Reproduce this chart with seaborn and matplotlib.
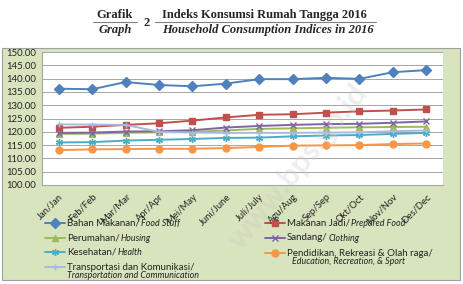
import numpy as np
import pandas as pd
import seaborn as sns
import matplotlib.pyplot as plt
from matplotlib.patches import Rectangle
from matplotlib.lines import Line2D

months = ['Jan/Jan', 'Feb/Feb', 'Mar/Mar', 'Apr/Apr', 'Mei/May', 'Juni/June',
          'Juli/July', 'Agu/Aug', 'Sep/Sep', 'Okt/Oct', 'Nov/Nov', 'Des/Dec']

food_stuff = [136.2, 136.0, 138.7, 137.6, 137.1, 138.1, 139.8, 139.8, 140.3, 139.9, 142.4, 143.2]
prepared_food = [121.5, 121.9, 122.6, 123.2, 124.2, 125.4, 126.4, 126.6, 127.2, 127.7, 128.0, 128.4]
housing = [119.2, 119.3, 119.6, 119.8, 120.0, 120.5, 121.1, 121.3, 121.5, 121.7, 121.8, 121.9]
clothing = [119.6, 119.7, 120.1, 120.2, 120.6, 121.6, 122.2, 122.6, 122.9, 123.0, 123.4, 123.9]
health = [116.0, 116.1, 116.7, 117.0, 117.3, 117.7, 117.8, 118.3, 118.6, 118.8, 119.2, 119.6]
education = [113.1, 113.4, 113.5, 113.6, 113.6, 113.9, 114.3, 114.8, 114.9, 115.0, 115.4, 115.6]
transport = [122.8, 122.7, 122.6, 120.0, 119.7, 119.6, 119.6, 119.6, 119.7, 119.8, 120.2, 120.5]

# (indonesian label, english label, values, colour, marker)
series = [
    ("Bahan Makanan/", "Food Stuff", food_stuff, '#4F81BD', 'D'),
    ("Makanan Jadi/", "Prepared Food", prepared_food, '#C0504D', 's'),
    ("Perumahan/", "Housing", housing, '#9BBB59', '^'),
    ("Sandang/", "Clothing", clothing, '#8064A2', 'x'),
    ("Kesehatan/", "Health", health, '#4BACC6', (6, 2, 0)),
    ("Pendidikan, Rekreasi & Olah raga/", "Education, Recreation, & Sport", education, '#F79646', 'o'),
    ("Transportasi dan Komunikasi/", "Transportation and Communication", transport, '#A9B9DE', '+'),
]

sns.set_style("white")
plt.rcParams['font.family'] = ['Lato', 'DejaVu Sans']

W, H = 463, 284
fig = plt.figure(figsize=(W / 100, H / 100), dpi=100)

def fx(px):
    return px / W

def fy(py):
    return 1 - py / H

# green chart box
fig.patches.append(Rectangle((fx(2), fy(280)), 458 / W, 232 / H,
                             transform=fig.transFigure, facecolor='#D7E4BD',
                             edgecolor='#A0A0A0', linewidth=0.8, zorder=-5))

ax = fig.add_axes([fx(42), fy(185), 401 / W, 133 / H])
ax.set_zorder(2)
ax.set_facecolor('white')

x = np.arange(len(months))
for name, eng, vals, color, marker in series:
    sns.lineplot(x=x, y=vals, ax=ax, color=color, marker=marker, markersize=5,
                 linewidth=1.4, markeredgecolor=color, markeredgewidth=1.0,
                 legend=False)

ax.set_xlim(-0.5, 11.5)
ax.set_ylim(100, 150)
ax.set_yticks(np.arange(100, 151, 5))
ax.set_yticklabels([f"{v:.2f}" for v in np.arange(100, 151, 5)], fontsize=6.9, color='#222222')
ax.set_xticks(x)
ax.set_xticklabels(months, rotation=45, ha='right', rotation_mode='anchor', fontsize=6.8, color='#222222')
ax.set_xticks(np.arange(-0.5, 12, 1), minor=True)
ax.tick_params(axis='x', which='major', length=0, pad=5)
ax.tick_params(axis='x', which='minor', length=3, width=0.8, color='#A6A6A6', direction='out')
ax.tick_params(axis='y', length=0, pad=4)
ax.yaxis.grid(True, color='#A6A6A6', linewidth=0.7)
ax.set_axisbelow(True)
for side in ['top', 'right']:
    ax.spines[side].set_visible(False)
for side in ['left', 'bottom']:
    ax.spines[side].set_color('#A6A6A6')
    ax.spines[side].set_linewidth(0.8)
ax.set_xlabel('')
ax.set_ylabel('')

# legend drawn by hand (mixed upright / italic labels)
renderer = fig.canvas.get_renderer()
legend_pos = [(45, 223), (265, 223), (45, 238), (265, 238), (45, 252), (265, 253), (45, 267)]
fs = 7
fs_it = 6.4
for (name, eng, vals, color, marker), (lx, ly) in zip(series, legend_pos):
    fig.add_artist(Line2D([fx(lx), fx(lx + 20)], [fy(ly)] * 2, color=color, linewidth=1.4))
    fig.add_artist(Line2D([fx(lx + 10)], [fy(ly)], color=color, marker=marker, markersize=5,
                          markeredgecolor=color, markeredgewidth=1.0))
    t = fig.text(fx(lx + 22), fy(ly), name, fontsize=fs, ha='left', va='center', color='#222222')
    if len(name) > 20:
        ix = lx + 22 + (5 if 'Pendidikan' in name else 0)
        fig.text(fx(ix), fy(ly + 8), eng, fontsize=fs_it, style='italic', ha='left', va='center', color='#222222')
    else:
        w = t.get_window_extent(renderer).width
        fig.text(fx(lx + 22) + (w + 1) / W, fy(ly + 0.5), eng, fontsize=fs_it, style='italic',
                 ha='left', va='center', color='#222222')

# title
serif = ['Liberation Serif', 'DejaVu Serif']
fig.text(fx(115), fy(15), 'Grafik', family=serif, weight='bold', fontsize=9, ha='center', va='center')
fig.text(fx(115), fy(30), 'Graph', family=serif, weight='bold', style='italic', fontsize=9, ha='center', va='center')
fig.text(fx(147), fy(23), '2', family=serif, weight='bold', fontsize=9, ha='center', va='center')
fig.text(fx(162), fy(15), 'Indeks Konsumsi Rumah Tangga 2016', family=serif, weight='bold', fontsize=9, ha='left', va='center')
fig.text(fx(162), fy(30), 'Household Consumption Indices in 2016', family=serif, weight='bold', style='italic', fontsize=9, ha='left', va='center')
fig.add_artist(Line2D([fx(93), fx(137)], [fy(22)] * 2, color='#808080', linewidth=0.8))
fig.add_artist(Line2D([fx(155), fx(376)], [fy(22)] * 2, color='#808080', linewidth=0.8))

# watermark
wm = fig.text(fx(298), fy(167), 'www.bps.go.id', fontsize=22, weight='bold', color='#C8C8C8',
              alpha=0.3, rotation=51, ha='center', va='center')
wm.set_zorder(10)

fig.savefig('out.png', dpi=100)
